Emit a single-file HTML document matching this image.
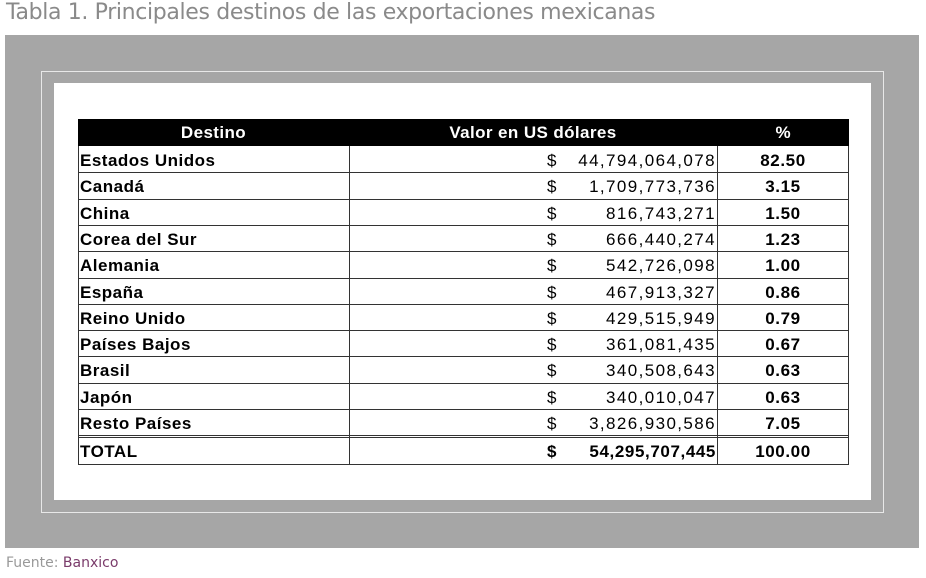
<!DOCTYPE html>
<html><head><meta charset="utf-8"><style>
body{margin:0;width:926px;height:578px;background:#fff;position:relative;overflow:hidden;font-family:"Liberation Sans",sans-serif}
.t{position:absolute;left:6px;top:0px;font-size:22px;color:#8a8a8a;font-family:"DejaVu Sans","Liberation Sans",sans-serif;letter-spacing:-0.35px}
.gray{position:absolute;left:5px;top:35px;width:914px;height:513px;background:#a6a6a6}
.fr{position:absolute;left:41px;top:71px;width:841px;height:440px;border:1px solid #e8e8e8}
.wh{position:absolute;left:54px;top:83px;width:817px;height:417px;background:#fff}
.c{position:absolute;font-size:17px;color:#000;white-space:nowrap;line-height:18px}
.n{left:80px;font-weight:bold;letter-spacing:0.5px}
.d{left:547px}
.v{left:349px;width:367px;text-align:right;letter-spacing:1.4px;margin-right:-1.4px}
.p{left:717px;width:132px;text-align:center;font-weight:bold;letter-spacing:0.6px}
.hd{position:absolute;left:78px;top:119px;width:771px;height:27px;background:#000}
.hl{position:absolute;background:#333;left:78px;width:771px;height:1px}
.vl{position:absolute;background:#333;width:1px;top:146px;height:319px}
.f{position:absolute;left:6px;top:555px;font-size:14px;color:#999;font-family:"DejaVu Sans","Liberation Sans",sans-serif}
</style></head><body>
<div class="t">Tabla 1. Principales destinos de las exportaciones mexicanas</div>
<div class="gray"></div><div class="fr"></div><div class="wh"></div>
<div class="hd"></div>
<div class="c" style="left:78px;width:271px;top:124px;text-align:center;color:#fff;font-weight:bold;letter-spacing:0.4px">Destino</div>
<div class="c" style="left:349px;width:368px;top:124px;text-align:center;color:#fff;font-weight:bold;letter-spacing:0.4px">Valor en US dólares</div>
<div class="c" style="left:717px;width:132px;top:124px;text-align:center;color:#fff;font-weight:bold">%</div>

<div class="c n" style="top:152px">Estados Unidos</div><div class="c d" style="top:152px">$</div><div class="c v" style="top:152px">44,794,064,078</div><div class="c p" style="top:152px">82.50</div>
<div class="hl" style="top:172px"></div>
<div class="c n" style="top:178px">Canadá</div><div class="c d" style="top:178px">$</div><div class="c v" style="top:178px">1,709,773,736</div><div class="c p" style="top:178px">3.15</div>
<div class="hl" style="top:199px"></div>
<div class="c n" style="top:205px">China</div><div class="c d" style="top:205px">$</div><div class="c v" style="top:205px">816,743,271</div><div class="c p" style="top:205px">1.50</div>
<div class="hl" style="top:225px"></div>
<div class="c n" style="top:231px">Corea del Sur</div><div class="c d" style="top:231px">$</div><div class="c v" style="top:231px">666,440,274</div><div class="c p" style="top:231px">1.23</div>
<div class="hl" style="top:251px"></div>
<div class="c n" style="top:257px">Alemania</div><div class="c d" style="top:257px">$</div><div class="c v" style="top:257px">542,726,098</div><div class="c p" style="top:257px">1.00</div>
<div class="hl" style="top:278px"></div>
<div class="c n" style="top:284px">España</div><div class="c d" style="top:284px">$</div><div class="c v" style="top:284px">467,913,327</div><div class="c p" style="top:284px">0.86</div>
<div class="hl" style="top:304px"></div>
<div class="c n" style="top:310px">Reino Unido</div><div class="c d" style="top:310px">$</div><div class="c v" style="top:310px">429,515,949</div><div class="c p" style="top:310px">0.79</div>
<div class="hl" style="top:330px"></div>
<div class="c n" style="top:336px">Países Bajos</div><div class="c d" style="top:336px">$</div><div class="c v" style="top:336px">361,081,435</div><div class="c p" style="top:336px">0.67</div>
<div class="hl" style="top:356px"></div>
<div class="c n" style="top:362px">Brasil</div><div class="c d" style="top:362px">$</div><div class="c v" style="top:362px">340,508,643</div><div class="c p" style="top:362px">0.63</div>
<div class="hl" style="top:383px"></div>
<div class="c n" style="top:389px">Japón</div><div class="c d" style="top:389px">$</div><div class="c v" style="top:389px">340,010,047</div><div class="c p" style="top:389px">0.63</div>
<div class="hl" style="top:409px"></div>
<div class="c n" style="top:415px">Resto Países</div><div class="c d" style="top:415px">$</div><div class="c v" style="top:415px">3,826,930,586</div><div class="c p" style="top:415px">7.05</div>
<div class="hl" style="top:435px"></div>
<div class="hl" style="top:437px"></div>
<div class="c n" style="top:443px">TOTAL</div><div class="c d" style="top:443px;font-weight:bold">$</div><div class="c v" style="top:443px;font-weight:bold;letter-spacing:0.6px;margin-right:-0.6px">54,295,707,445</div><div class="c p" style="top:443px">100.00</div>
<div class="hl" style="top:464px"></div>
<div class="vl" style="left:78px"></div>
<div class="vl" style="left:349px"></div>
<div class="vl" style="left:717px"></div>
<div class="vl" style="left:848px"></div>

<div class="f">Fuente: <span style="color:#7a3b6a">Banxico</span></div>
</body></html>
